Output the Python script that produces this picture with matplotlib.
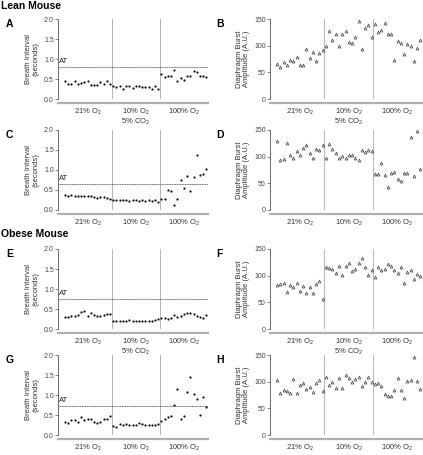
import numpy as np
import matplotlib
matplotlib.use("Agg")
import matplotlib.pyplot as plt

plt.rcParams["font.family"] = ["Liberation Sans", "DejaVu Sans"]
plt.rcParams["mathtext.fontset"] = "custom"
plt.rcParams["mathtext.rm"] = "Liberation Sans"
plt.rcParams["mathtext.it"] = "Liberation Sans:italic"
plt.rcParams["mathtext.bf"] = "Liberation Sans:bold"

# each list: 21% O2 (15), 10% O2 (15), 100% O2 (15)
lean_interval_hyp = [0.45, 0.37, 0.38, 0.45, 0.37, 0.40, 0.43, 0.45, 0.36, 0.35, 0.35, 0.42, 0.37, 0.46, 0.38,
                     0.33, 0.30, 0.33, 0.26, 0.33, 0.32, 0.28, 0.33, 0.33, 0.30, 0.30, 0.31, 0.26, 0.32, 0.26,
                     0.62, 0.55, 0.58, 0.58, 0.72, 0.44, 0.52, 0.47, 0.58, 0.58, 0.70, 0.68, 0.57, 0.58, 0.55]
lean_amp_hyp = [66, 60, 69, 63, 74, 71, 79, 63, 64, 94, 77, 88, 72, 87, 92,
                99, 128, 110, 121, 99, 122, 127, 107, 105, 116, 147, 94, 133, 138, 116,
                141, 125, 130, 142, 122, 122, 74, 108, 105, 84, 103, 99, 71, 96, 111]
lean_interval_poi = [0.38, 0.35, 0.37, 0.36, 0.35, 0.35, 0.35, 0.35, 0.34, 0.32, 0.31, 0.33, 0.32, 0.31, 0.28,
                     0.25, 0.25, 0.25, 0.24, 0.24, 0.23, 0.25, 0.24, 0.23, 0.24, 0.23, 0.25, 0.22, 0.26, 0.20,
                     0.27, 0.27, 0.50, 0.48, 0.13, 0.27, 0.75, 0.55, 0.85, 0.48, 0.82, 1.37, 0.87, 0.89, 1.02]
lean_amp_poi = [129, 93, 95, 125, 103, 98, 110, 103, 116, 122, 106, 98, 114, 112, 122,
                98, 124, 114, 106, 98, 101, 97, 104, 103, 98, 93, 112, 109, 112, 111,
                68, 68, 89, 66, 43, 69, 71, 59, 54, 70, 70, 137, 64, 149, 76]
obese_interval_hyp = [0.30, 0.30, 0.32, 0.33, 0.35, 0.42, 0.44, 0.32, 0.40, 0.36, 0.33, 0.33, 0.35, 0.38, 0.38,
                      0.20, 0.21, 0.20, 0.21, 0.20, 0.23, 0.20, 0.20, 0.21, 0.20, 0.21, 0.21, 0.20, 0.22, 0.24,
                      0.27, 0.28, 0.25, 0.28, 0.35, 0.30, 0.33, 0.38, 0.40, 0.40, 0.38, 0.33, 0.30, 0.28, 0.34]
obese_amp_hyp = [83, 85, 86, 69, 82, 78, 86, 72, 81, 67, 78, 67, 84, 90, 56,
                 116, 114, 113, 105, 118, 102, 119, 124, 109, 113, 124, 133, 116, 102, 111,
                 97, 117, 111, 112, 122, 118, 110, 105, 117, 86, 106, 111, 94, 103, 100]
obese_interval_poi = [0.33, 0.30, 0.37, 0.38, 0.33, 0.45, 0.37, 0.40, 0.40, 0.32, 0.30, 0.32, 0.40, 0.40, 0.47,
                      0.22, 0.20, 0.27, 0.24, 0.27, 0.25, 0.24, 0.25, 0.30, 0.27, 0.25, 0.26, 0.26, 0.26, 0.28,
                      0.35, 0.40, 0.45, 0.48, 0.75, 1.15, 0.41, 0.47, 1.08, 1.46, 1.03, 0.90, 0.50, 0.96, 0.70]
obese_amp_poi = [103, 78, 85, 82, 78, 105, 78, 94, 98, 87, 90, 81, 98, 103, 83,
                 109, 94, 100, 89, 106, 88, 113, 106, 99, 105, 108, 92, 100, 109, 99,
                 95, 98, 92, 77, 74, 74, 84, 107, 84, 69, 101, 103, 147, 101, 87]

at_values = {"A": 0.80, "C": 0.66, "E": 0.76, "G": 0.73}
labels_hyp = ["21% O$_2$", "10% O$_2$\n5% CO$_2$", "100% O$_2$"]
labels_poi = ["21% O$_2$", "10% O$_2$", "100% O$_2$"]

W, H = 423, 455
fig = plt.figure(figsize=(W / 100, H / 100), dpi=100)

rows = [("A", "B", lean_interval_hyp, lean_amp_hyp, labels_hyp, 19),
        ("C", "D", lean_interval_poi, lean_amp_poi, labels_poi, 130),
        ("E", "F", obese_interval_hyp, obese_amp_hyp, labels_hyp, 249),
        ("G", "H", obese_interval_poi, obese_amp_poi, labels_poi, 355)]


def style_axis(ax, ticklabels):
    ax.set_xlim(-2.2, 44.5)
    ax.spines["top"].set_visible(False)
    ax.spines["right"].set_visible(False)
    ax.spines["left"].set_color("#555555")
    ax.spines["left"].set_linewidth(0.6)
    ax.spines["bottom"].set_color("#b0b0b0")
    ax.spines["bottom"].set_linewidth(1.6)
    ax.spines["bottom"].set_position(("outward", 3))
    ax.tick_params(axis="y", length=2, width=0.5, color="#555555", labelsize=5, pad=1,
                   labelcolor="#444444")
    ax.set_xticks([7, 22, 37])
    ax.set_xticklabels(ticklabels, fontsize=5.5, color="#333333", linespacing=0.95,
                       va="top")
    ax.tick_params(axis="x", length=0, pad=2.5)
    for xv in (14.5, 29.5):
        ax.axvline(xv, color="#aaaaaa", lw=0.6, zorder=0)


for left_tag, right_tag, interval, amp, ticklabels, top in rows:
    h = 80
    bottom = 1 - (top + h) / H
    x = np.arange(len(interval))

    ax = fig.add_axes([58 / W, bottom, 150 / W, h / H])
    ax.plot(x, interval, "o", ms=1.6, color="#111111", mew=0)
    ax.set_ylim(0, 2.0)
    ax.set_yticks([0.0, 0.5, 1.0, 1.5, 2.0])
    ax.set_yticklabels(["0.0", "0.5", "1.0", "1.5", "2.0"])
    style_axis(ax, ticklabels)
    at = at_values[left_tag]
    ax.axhline(at, color="#444444", lw=0.6, ls=(0, (1.2, 0.8)))
    ax.text(-2.0, at + 0.04, "AT", fontsize=5.5, color="#222222", ha="left", va="bottom")
    ax.set_ylabel("Breath Interval\n(seconds)", fontsize=5.5, color="#333333",
                  linespacing=1.1, labelpad=3)

    ax2 = fig.add_axes([270 / W, bottom, 152 / W, h / H])
    ax2.plot(x, amp, "^", ms=2.2, mfc="#cccccc", mec="#333333", mew=0.4)
    ax2.set_ylim(0, 150)
    ax2.set_yticks([0, 50, 100, 150])
    style_axis(ax2, ticklabels)
    ax2.set_ylabel("Diaphragm Burst\nAmplitude (A.U.)", fontsize=5.5, color="#333333",
                   linespacing=1.1, labelpad=3)

    fig.text(6 / W, 1 - (top + 5) / H, left_tag, fontsize=7.5, fontweight="bold", va="center")
    fig.text(216 / W, 1 - (top + 5) / H, right_tag, fontsize=7.5, fontweight="bold", va="center")

fig.text(1 / W, 1 - 6 / H, "Lean Mouse", fontsize=7.5, fontweight="bold", va="center")
fig.text(1 / W, 1 - 234 / H, "Obese Mouse", fontsize=7.5, fontweight="bold", va="center")

fig.savefig("out.png", dpi=100)
